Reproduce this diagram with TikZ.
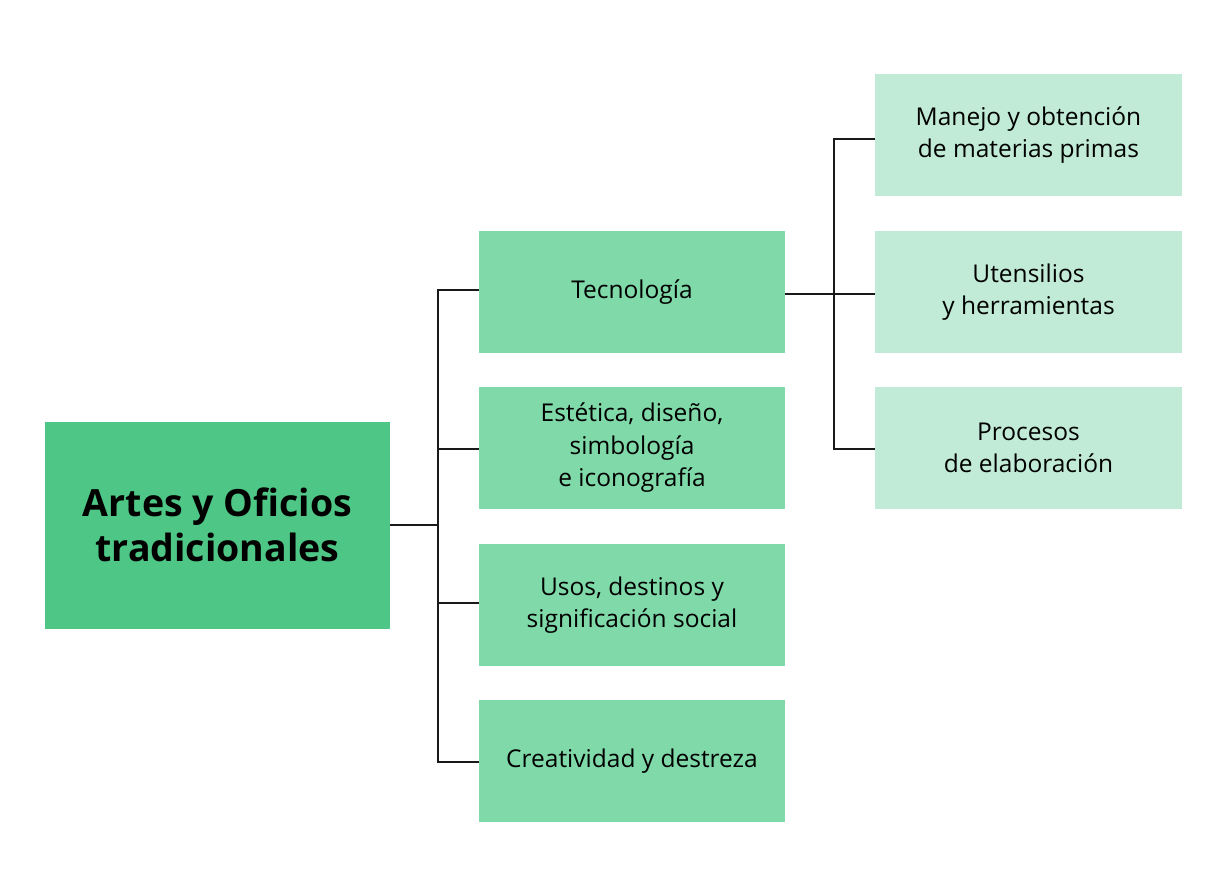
\documentclass[tikz,border=0pt]{standalone}
\usepackage{fontspec}
\setmainfont{Open Sans}
\definecolor{cmain}{HTML}{4EC685}
\definecolor{cmid}{HTML}{80D9A8}
\definecolor{clight}{HTML}{C1EBD6}
\begin{document}
\begin{tikzpicture}[x=1pt,y=-1pt,
  mainbox/.style={fill=cmain,minimum width=345pt,minimum height=207pt,inner sep=0pt,align=center,
    font=\fontsize{37.5}{45}\selectfont\bfseries},
  midbox/.style={fill=cmid,minimum width=306pt,minimum height=122pt,inner sep=0pt,align=center,
    font=\fontsize{24.5}{32.5}\selectfont},
  lightbox/.style={fill=clight,minimum width=307pt,minimum height=122pt,inner sep=0pt,align=center,
    font=\fontsize{24.5}{32.5}\selectfont},
  conn/.style={draw=black!90,line width=1.6pt}]
\useasboundingbox (0,0) rectangle (1232,886);
\node[mainbox] (main) at (217.5,525) {Artes y Oficios\\tradicionales};
\node[midbox] (tec) at (632,292) {Tecnología};
\node[midbox] (est) at (632,448) {Estética, diseño,\\simbología\\e iconografía};
\node[midbox] (uso) at (632,605) {Usos, destinos y\\significación social};
\node[midbox] (cre) at (632,761) {Creatividad y destreza};
\node[lightbox] (man) at (1028.5,135) {Manejo y obtención\\de materias primas};
\node[lightbox] (ute) at (1028.5,292) {Utensilios\\y herramientas};
\node[lightbox] (pro) at (1028.5,448) {Procesos\\de elaboración};
\coordinate (j1) at (438,525);
\coordinate (j2) at (834,294);
\draw[conn] (main.east |- j1) -- (j1);
\draw[conn] (tec.west |- 0,290) -| (j1 |- 0,290) |- (cre.west |- 0,762);
\draw[conn] (j1 |- 0,449) -- (est.west |- 0,449);
\draw[conn] (j1 |- 0,603) -- (uso.west |- 0,603);
\draw[conn] (tec.east |- j2) -- (ute.west |- j2);
\draw[conn] (man.west |- 0,139) -| (j2 |- 0,139) |- (pro.west |- 0,449);
\end{tikzpicture}
\end{document}
